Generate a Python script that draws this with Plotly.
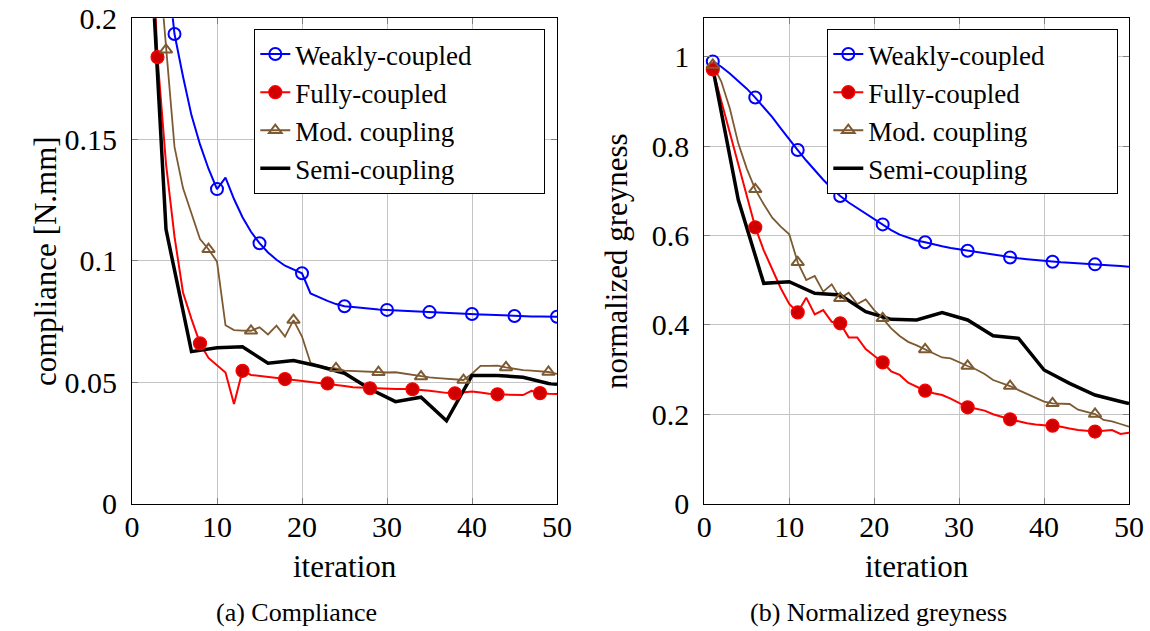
import plotly.graph_objects as go

# ---------------- data ----------------
iters = list(range(1, 51))
semi_iters = [1, 4, 7, 10, 13, 16, 19, 22, 25, 28, 31, 34, 37, 40, 43, 46, 49, 50]

comp_weak = [0.60, 0.40, 0.28, 0.226, 0.1935, 0.176, 0.160, 0.148, 0.138, 0.1296,
             0.1343, 0.1255, 0.118, 0.112, 0.1073, 0.1035, 0.1005, 0.098, 0.0965, 0.0949,
             0.0866, 0.085, 0.0835, 0.0822, 0.0813, 0.081, 0.0806, 0.0803, 0.080, 0.0798,
             0.0796, 0.0794, 0.0792, 0.079, 0.0789, 0.0787, 0.0786, 0.0784, 0.0782, 0.0781,
             0.0779, 0.0778, 0.0776, 0.0775, 0.0773, 0.0772, 0.0771, 0.0771, 0.077, 0.077]
comp_full = [0.45, 0.26, 0.184, 0.14, 0.11, 0.087, 0.076, 0.066, 0.060, 0.057,
             0.054, 0.041, 0.0547, 0.053, 0.0526, 0.052, 0.0516, 0.0513, 0.051, 0.0505,
             0.0501, 0.0498, 0.0495, 0.049, 0.0484, 0.0479, 0.0477, 0.0475, 0.0474, 0.0473,
             0.0472, 0.0472, 0.0471, 0.0468, 0.0465, 0.046, 0.0456, 0.0454, 0.0457, 0.0462,
             0.0458, 0.0452, 0.045, 0.0449, 0.0448, 0.0447, 0.0464, 0.0455, 0.0452, 0.0451]
comp_mod = [0.50, 0.32, 0.23, 0.187, 0.147, 0.130, 0.119, 0.109, 0.1048, 0.0997,
            0.0735, 0.0715, 0.0713, 0.0712, 0.0726, 0.0697, 0.0733, 0.0688, 0.0756, 0.0688,
            0.058, 0.0568, 0.056, 0.0557, 0.0548, 0.0546, 0.0544, 0.0542, 0.0541, 0.054,
            0.0541, 0.0535, 0.053, 0.0523, 0.052, 0.0517, 0.0514, 0.0511, 0.0509, 0.0535,
            0.0567, 0.0567, 0.0568, 0.0561, 0.0555, 0.055, 0.0548, 0.0545, 0.0542, 0.0534]
comp_semi = [0.305, 0.113, 0.0626, 0.0642, 0.0646, 0.0578, 0.0589, 0.0566, 0.0537,
             0.0472, 0.042, 0.0438, 0.0341, 0.0528, 0.0528, 0.052, 0.0495, 0.0491]

grey_weak = [0.990, 0.978, 0.963, 0.947, 0.929, 0.909, 0.888, 0.865, 0.840, 0.815,
             0.7915, 0.768, 0.746, 0.725, 0.706, 0.6885, 0.674, 0.662, 0.650, 0.638,
             0.625, 0.612, 0.602, 0.595, 0.589, 0.585, 0.580, 0.576, 0.572, 0.569,
             0.566, 0.563, 0.560, 0.557, 0.554, 0.551, 0.549, 0.547, 0.545, 0.543,
             0.5415, 0.540, 0.539, 0.5375, 0.5365, 0.5355, 0.5345, 0.533, 0.5318, 0.530]
grey_full = [0.972, 0.90, 0.83, 0.76, 0.69, 0.6185, 0.567, 0.525, 0.482, 0.447,
             0.428, 0.461, 0.4236, 0.433, 0.407, 0.4035, 0.372, 0.372, 0.346, 0.331,
             0.316, 0.296, 0.288, 0.2705, 0.262, 0.2526, 0.247, 0.243, 0.235, 0.225,
             0.2154, 0.212, 0.208, 0.200, 0.194, 0.1885, 0.184, 0.1795, 0.177, 0.1755,
             0.1743, 0.172, 0.168, 0.1646, 0.163, 0.161, 0.163, 0.1646, 0.1556, 0.1585]
grey_mod = [0.982, 0.945, 0.885, 0.8065, 0.75, 0.7035, 0.67, 0.64, 0.62, 0.603,
            0.540, 0.5005, 0.5094, 0.4743, 0.4907, 0.4594, 0.472, 0.4467, 0.457, 0.433,
            0.4146, 0.392, 0.375, 0.362, 0.354, 0.345, 0.336, 0.327, 0.325, 0.316,
            0.308, 0.300, 0.290, 0.2765, 0.270, 0.263, 0.254, 0.245, 0.236, 0.228,
            0.2243, 0.223, 0.2228, 0.210, 0.205, 0.2004, 0.187, 0.184, 0.178, 0.172]
grey_semi = [0.975, 0.68, 0.493, 0.4967, 0.4706, 0.467, 0.4295, 0.4124, 0.411,
             0.4273, 0.411, 0.3758, 0.3699, 0.299, 0.269, 0.243, 0.2285, 0.224]

series_names = ["Weakly-coupled", "Fully-coupled", "Mod. coupling", "Semi-coupling"]
x_ticks = [0, 10, 20, 30, 40, 50]
comp_ticks = [0, 0.05, 0.1, 0.15, 0.2]
comp_tick_text = ["0", "0.05", "0.1", "0.15", "0.2"]
grey_ticks = [0, 0.2, 0.4, 0.6, 0.8, 1.0]
grey_tick_text = ["0", "0.2", "0.4", "0.6", "0.8", "1"]

# ---------------- styles ----------------
FONT = "Liberation Serif, Times New Roman, Times, serif"
BLUE, RED, RED_FILL, BROWN, BLACK = "#0000ff", "#ff0000", "#d00000", "#7d5a32", "#000000"

styles = {
    "weak": dict(line=dict(color=BLUE, width=2),
                 marker=dict(symbol="circle-open", size=12, color=BLUE, line=dict(color=BLUE, width=2))),
    "full": dict(line=dict(color=RED, width=2),
                 marker=dict(symbol="circle", size=13, color=RED_FILL, line=dict(color=RED, width=1.2))),
    "mod": dict(line=dict(color=BROWN, width=1.8),
                marker=dict(symbol="triangle-up-open", size=11, color=BROWN, line=dict(color=BROWN, width=2))),
    "semi": dict(line=dict(color=BLACK, width=3.5), marker=None),
}

fig = go.Figure()

panels = [
    ("x", "y", "legend", [("weak", iters, comp_weak, 4), ("full", iters, comp_full, 2),
                          ("mod", iters, comp_mod, 3), ("semi", semi_iters, comp_semi, None)]),
    ("x2", "y2", "legend2", [("weak", iters, grey_weak, 0), ("full", iters, grey_full, 0),
                             ("mod", iters, grey_mod, 0), ("semi", semi_iters, grey_semi, None)]),
]

PAD = "\u00a0" * 10

for xa, ya, leg, series in panels:
    for key, xs, ys, phase in series:
        st = styles[key]
        fig.add_trace(go.Scatter(x=xs, y=ys, mode="lines", line=st["line"],
                                 xaxis=xa, yaxis=ya, showlegend=False, hoverinfo="skip"))
    for key, xs, ys, phase in series:
        st = styles[key]
        if phase is None:
            continue
        fig.add_trace(go.Scatter(x=xs[phase::5], y=ys[phase::5], mode="markers", marker=st["marker"],
                                 xaxis=xa, yaxis=ya, showlegend=False, cliponaxis=True))
    for (key, xs, ys, phase), name in zip(series, series_names):
        st = styles[key]
        kw = dict(mode="lines+markers", marker=st["marker"]) if st["marker"] else dict(mode="lines")
        fig.add_trace(go.Scatter(x=[None], y=[None], name=name + PAD,
                                 line=st["line"], xaxis=xa, yaxis=ya, legend=leg,
                                 showlegend=True, **kw))

axis_common = dict(showgrid=True, gridcolor="#c4c4c4", gridwidth=1, zeroline=False,
                   showline=True, linecolor="#000000", linewidth=1, mirror="ticks",
                   ticks="inside", ticklen=6, tickcolor="#808080", tickwidth=1,
                   automargin=False,
                   tickfont=dict(family=FONT, size=30, color="black"))

leg_common = dict(y=1 - 29 / 631, xanchor="left", yanchor="top",
                  bgcolor="white", bordercolor="black", borderwidth=1,
                  font=dict(family=FONT, size=27, color="black"), tracegroupgap=0)

fig.update_layout(
    width=1150, height=631,
    margin=dict(l=0, r=0, t=0, b=0, autoexpand=False),
    paper_bgcolor="white", plot_bgcolor="white",
    font=dict(family=FONT, color="black"),
    xaxis=dict(domain=[132 / 1150, 557 / 1150], range=[0, 50], tickvals=x_ticks,
               anchor="y", ticklabelstandoff=-4, **axis_common),
    yaxis=dict(domain=[1 - 503.5 / 631, 1 - 18.3 / 631], range=[0, 0.2], tickvals=comp_ticks,
               ticktext=comp_tick_text, anchor="x", ticklabelstandoff=8, **axis_common),
    xaxis2=dict(domain=[704.3 / 1150, 1129 / 1150], range=[0, 50], tickvals=x_ticks,
                anchor="y2", ticklabelstandoff=-4, **axis_common),
    yaxis2=dict(domain=[1 - 503.5 / 631, 1 - 18.3 / 631], range=[0, 1.0865], tickvals=grey_ticks,
                ticktext=grey_tick_text, anchor="x2", ticklabelstandoff=8, **axis_common),
    legend=dict(x=254.3 / 1150, **leg_common),
    legend2=dict(x=827.3 / 1150, **leg_common),
    showlegend=True,
)

ann_font = dict(family=FONT, size=31, color="black")
cap_font = dict(family=FONT, size=26, color="black")
fig.add_annotation(text="compliance [N.mm]", x=45 / 1150, y=1 - 261 / 631, xref="paper", yref="paper",
                   textangle=-90, showarrow=False, font=ann_font, xanchor="center", yanchor="middle")
fig.add_annotation(text="normalized greyness", x=616 / 1150, y=1 - 261 / 631, xref="paper", yref="paper",
                   textangle=-90, showarrow=False, font=ann_font, xanchor="center", yanchor="middle")
fig.add_annotation(text="iteration", x=344.5 / 1150, y=1 - 566 / 631, xref="paper", yref="paper",
                   showarrow=False, font=ann_font, xanchor="center", yanchor="middle")
fig.add_annotation(text="iteration", x=916.6 / 1150, y=1 - 566 / 631, xref="paper", yref="paper",
                   showarrow=False, font=ann_font, xanchor="center", yanchor="middle")
fig.add_annotation(text="(a) Compliance", x=296 / 1150, y=1 - 612 / 631, xref="paper", yref="paper",
                   showarrow=False, font=cap_font, xanchor="center", yanchor="middle")
fig.add_annotation(text="(b) Normalized greyness", x=878 / 1150, y=1 - 612 / 631, xref="paper", yref="paper",
                   showarrow=False, font=cap_font, xanchor="center", yanchor="middle")

fig.write_html("out.html")
